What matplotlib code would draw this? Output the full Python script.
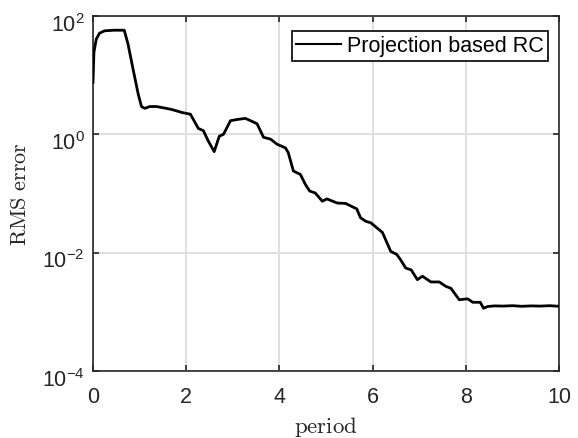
import math
import matplotlib
matplotlib.use('Agg')
import matplotlib.pyplot as plt
from matplotlib.ticker import FixedLocator, FuncFormatter, NullLocator
from matplotlib.transforms import ScaledTranslation

# --- data (period vs RMS error) ---
period = [
    0.00, 0.02, 0.07, 0.14, 0.25, 0.45, 0.67, 0.75, 0.86, 0.97,
    1.04, 1.11, 1.22, 1.36, 1.57, 1.69, 1.91, 2.09, 2.26, 2.37,
    2.47, 2.60, 2.71, 2.80, 2.95, 3.09, 3.27, 3.41, 3.52, 3.66,
    3.81, 3.95, 4.13, 4.19, 4.30, 4.45, 4.56, 4.65, 4.77, 4.92,
    5.02, 5.24, 5.42, 5.56, 5.66, 5.74, 5.85, 5.96, 6.05, 6.21,
    6.32, 6.39, 6.52, 6.60, 6.71, 6.83, 6.96, 7.07, 7.25, 7.43,
    7.57, 7.68, 7.86, 8.04, 8.15, 8.31, 8.38, 8.47, 8.61, 8.80,
    9.00, 9.20, 9.40, 9.60, 9.80, 10.00,
]
rms_error = [
    7.6, 24.5, 40.7, 51.3, 56.2, 57.5, 57.5, 33.9, 12.6, 4.8,
    2.95, 2.75, 2.95, 2.95, 2.75, 2.63, 2.34, 2.19, 1.26, 1.15,
    0.78, 0.51, 0.93, 1.0, 1.70, 1.78, 1.86, 1.66, 1.51, 0.89,
    0.83, 0.68, 0.59, 0.49, 0.24, 0.21, 0.141, 0.110, 0.102, 0.074,
    0.081, 0.069, 0.068, 0.060, 0.055, 0.039, 0.034, 0.032, 0.028, 0.022,
    0.014, 0.0105, 0.0093, 0.0076, 0.0055, 0.0051, 0.0035, 0.0040, 0.0032, 0.0032,
    0.0027, 0.0025, 0.0016, 0.00166, 0.00145, 0.00145, 0.00115, 0.00123, 0.00126, 0.00125,
    0.00127, 0.00124, 0.00126, 0.00125, 0.00127, 0.00124,
]
x_ticks = [0, 2, 4, 6, 8, 10]
y_ticks = [1e-4, 1e-2, 1e0, 1e2]
series_label = 'Projection based RC'

# MATLAB-ish look: Helvetica-like ticks, LaTeX-like axis labels
plt.rcParams['font.family'] = ['Liberation Sans', 'DejaVu Sans']
plt.rcParams['mathtext.fontset'] = 'custom'
plt.rcParams['mathtext.rm'] = 'Liberation Sans'
plt.rcParams['mathtext.it'] = 'Liberation Sans:italic'
plt.rcParams['mathtext.bf'] = 'Liberation Sans:bold'

AX_COLOR = '#262626'

fig = plt.figure(figsize=(5.78, 4.39), dpi=100)
ax = fig.add_axes([93 / 578, 1 - 372 / 439, (559 - 93) / 578, (372 - 17) / 439])

ax.plot(period, rms_error, color='black', linewidth=2.0, label=series_label, zorder=3)

ax.set_yscale('log')
ax.set_xlim(0, 10)
ax.set_ylim(1e-4, 1e2)
ax.xaxis.set_major_locator(FixedLocator(x_ticks))
ax.yaxis.set_major_locator(FixedLocator(y_ticks))
ax.yaxis.set_minor_locator(NullLocator())
ax.xaxis.set_minor_locator(NullLocator())
ax.yaxis.set_major_formatter(FuncFormatter(lambda v, p: r'$10^{%d}$' % round(math.log10(v))))

ax.grid(True, color='#dfdfdf', linewidth=1.4, zorder=0)
ax.set_axisbelow(True)

for s in ax.spines.values():
    s.set_color(AX_COLOR)
    s.set_linewidth(1.2)

ax.tick_params(direction='in', length=4, width=1.2, colors=AX_COLOR,
               labelsize=15.5, top=True, right=True)
ax.tick_params(axis='x', pad=11)
ax.tick_params(axis='y', pad=6)

ax.set_xlabel(r'$\mathrm{period}$', fontsize=16.5, color=AX_COLOR,
              math_fontfamily='cm', labelpad=5)
ax.set_ylabel(r'$\mathrm{RMS\ error}$', fontsize=16, color=AX_COLOR,
              math_fontfamily='cm', labelpad=8)

# nudge the 10^n labels down a bit, like MATLAB centres them
shift = ScaledTranslation(0, -4 / 72, fig.dpi_scale_trans)
for t in ax.yaxis.get_major_ticks():
    t.label1.set_transform(t.label1.get_transform() + shift)

leg = ax.legend(loc='upper right', bbox_to_anchor=(0.976, 0.958),
                fontsize=15.5, frameon=True, fancybox=False,
                borderpad=0.2, handlelength=2.1, handletextpad=0.25,
                borderaxespad=0)
leg.get_frame().set_edgecolor('black')
leg.get_frame().set_linewidth(1.2)
leg.get_frame().set_alpha(1)
for ln in leg.get_lines():
    ln.set_linewidth(1.5)

fig.savefig('out.png', dpi=100)
